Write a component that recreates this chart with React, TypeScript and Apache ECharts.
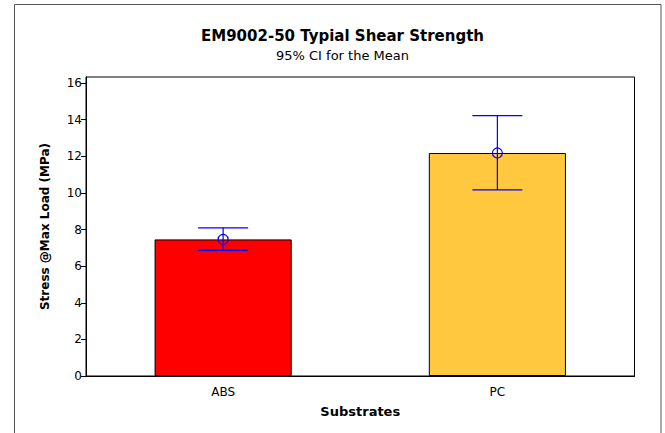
import React, { useEffect, useRef } from "react";
import * as echarts from "echarts";

const categories = ["ABS", "PC"];
const means = [7.46, 12.18];
const ciLower = [6.86, 10.16];
const ciUpper = [8.09, 14.22];
const barColors = ["#FF0000", "#FFC83E"];
const titleText = "EM9002-50 Typial Shear Strength";
const subtitleText = "95% CI for the Mean";
const yName = "Stress @Max Load (MPa)";
const xName = "Substrates";

export default function App() {
  const ref = useRef<HTMLDivElement>(null);
  useEffect(() => {
    if (!ref.current) return;
    const chart = echarts.init(ref.current, null, { renderer: "svg" });
    const font = "DejaVu Sans";
    const ciData = categories.map((c, i) => [i, ciLower[i], ciUpper[i], means[i]]);
    chart.setOption({
      animation: false,
      backgroundColor: "#ffffff",
      textStyle: { fontFamily: font },
      title: [
        {
          text: titleText,
          left: 337.5,
          top: 23,
          textAlign: "center",
          textStyle: { fontFamily: font, fontSize: 15, fontWeight: "bold", color: "#000" },
        },
        {
          text: subtitleText,
          left: 337.5,
          top: 44,
          textAlign: "center",
          textStyle: { fontFamily: font, fontSize: 13, fontWeight: "normal", color: "#000" },
        },
      ],
      graphic: [
        {
          type: "rect",
          shape: { x: 14.5, y: 4.5, width: 646.5, height: 460 },
          style: { fill: "none", stroke: "#555", lineWidth: 1 },
          silent: true,
          z: -1,
        },
      ],
      grid: {
        left: 86,
        right: 30.5,
        top: 77,
        bottom: 57,
        show: true,
        borderColor: "#000",
        borderWidth: 1,
        backgroundColor: "transparent",
      },
      xAxis: {
        type: "category",
        data: categories,
        name: xName,
        nameLocation: "middle",
        nameGap: 29,
        nameTextStyle: { fontFamily: font, fontSize: 13, fontWeight: "bold", color: "#000" },
        axisLine: { lineStyle: { color: "#000", width: 1 } },
        axisTick: { alignWithLabel: true, length: 5, lineStyle: { color: "#666" } },
        axisLabel: { fontFamily: font, fontSize: 12, color: "#000", margin: 10 },
        splitLine: { show: false },
      },
      yAxis: {
        type: "value",
        min: 0,
        max: 16.33,
        interval: 2,
        name: yName,
        nameLocation: "middle",
        nameGap: 35,
        nameRotate: 90,
        nameTextStyle: { fontFamily: font, fontSize: 12, fontWeight: "bold", color: "#000" },
        axisLine: { show: true, lineStyle: { color: "#000", width: 1 } },
        axisTick: { show: true, length: 5, lineStyle: { color: "#000" } },
        axisLabel: { fontFamily: font, fontSize: 12, color: "#000", margin: 4, showMaxLabel: false },
        splitLine: { show: false },
      },
      series: [
        {
          type: "bar",
          barWidth: "50%",
          data: means.map((v, i) => ({
            value: v,
            itemStyle: { color: barColors[i], borderColor: "#000", borderWidth: 1 },
          })),
          z: 2,
        },
        {
          type: "custom",
          data: ciData,
          encode: { x: 0, y: [1, 2, 3] },
          z: 5,
          renderItem: (params: any, api: any) => {
            const idx = api.value(0);
            const lo = api.coord([idx, api.value(1)]);
            const hi = api.coord([idx, api.value(2)]);
            const mid = api.coord([idx, api.value(3)]);
            const hw = 25;
            const st = { stroke: "#0000FF", lineWidth: 1.2, fill: "none" };
            return {
              type: "group",
              children: [
                { type: "line", shape: { x1: hi[0], y1: hi[1], x2: lo[0], y2: lo[1] }, style: st },
                { type: "line", shape: { x1: hi[0] - hw, y1: hi[1], x2: hi[0] + hw, y2: hi[1] }, style: st },
                { type: "line", shape: { x1: lo[0] - hw, y1: lo[1], x2: lo[0] + hw, y2: lo[1] }, style: st },
                { type: "circle", shape: { cx: mid[0], cy: mid[1], r: 5 }, style: st },
              ],
            };
          },
        },
      ],
    });
    return () => chart.dispose();
  }, []);
  return (
    <div
      ref={ref}
      style={{ position: "absolute", left: 0, top: 0, width: 665, height: 433 }}
    />
  );
}
